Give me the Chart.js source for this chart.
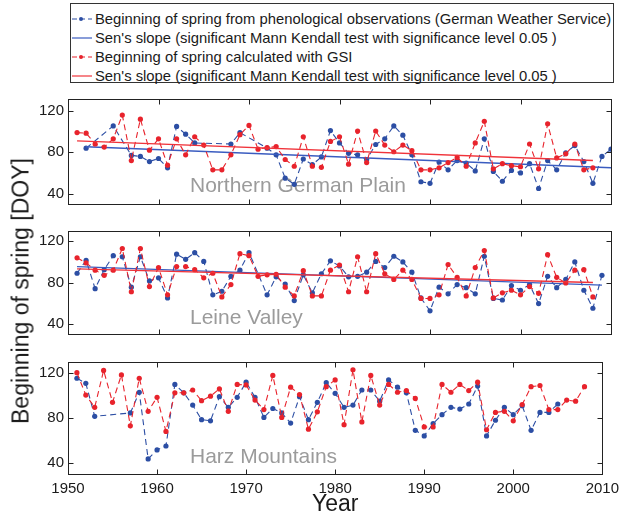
<!DOCTYPE html>
<html>
<head>
<meta charset="utf-8">
<script src="https://cdn.jsdelivr.net/npm/chart.js@4.4.1/dist/chart.umd.min.js"></script>
<style>
  body { margin: 0; background: #fff; font-family: "Liberation Sans", Arial, sans-serif; }
  #wrap { position: relative; width: 641px; height: 516px; overflow: hidden; }
  #wrap canvas { position: absolute; left: 0; }
  #legend { position: absolute; left: 70px; top: 3px; width: 542px; border: 1px solid #333; padding-top: 5px; height: 73px; }
  .row { height: 19px; display: flex; align-items: center; font-size: 14.8px; color: #1a1a1a; white-space: nowrap; }
  .row svg { margin-right: 2px; flex: none; }
  #ytitle { position: absolute; left: 21px; top: 291px; transform: translate(-50%, -50%) rotate(-90deg); font-size: 23px; color: #1a1a1a; white-space: nowrap; }
</style>
</head>
<body>
<div id="wrap">
  <div id="legend"></div>
  <canvas id="north" width="625" height="131" style="top:86px"></canvas>
  <canvas id="leine" width="625" height="129" style="top:218px"></canvas>
  <canvas id="harz" width="625" height="167" style="top:349px"></canvas>
  <div id="ytitle">Beginning of spring [DOY]</div>
</div>
<script>
// --- DATA ---
const years = [1950, 1951, 1952, 1953, 1954, 1955, 1956, 1957, 1958, 1959,
  1960, 1961, 1962, 1963, 1964, 1965, 1966, 1967, 1968, 1969,
  1970, 1971, 1972, 1973, 1974, 1975, 1976, 1977, 1978, 1979,
  1980, 1981, 1982, 1983, 1984, 1985, 1986, 1987, 1988, 1989,
  1990, 1991, 1992, 1993, 1994, 1995, 1996, 1997, 1998, 1999,
  2000, 2001, 2002, 2003, 2004, 2005, 2006, 2007, 2008, 2009, 2010];

const xTicks = [1950, 1960, 1970, 1980, 1990, 2000, 2010];
const yTicks = [40, 80, 120];

const seriesLabels = [
  'Beginning of spring from phenological observations (German Weather Service)',
  "Sen's slope (significant Mann Kendall test with significance level 0.05 )",
  'Beginning of spring calculated with GSI',
  "Sen's slope (significant Mann Kendall test with significance level 0.05 )"
];

// Northern German Plain
const northBlue = [null, null, 84, null, null, 105.5, null, 77, 76, 71,
  74, 65, 105, 97.5, 89, null, null, null, 88, 99,
  null, null, 84, 77.5, 55, 49, 73.5, 68, 75.5, 101,
  89, 79, 77.5, 73, 87.5, 93, 105.5, 96.5, 77.5, 51.5,
  50, 70.5, 63, 72, 69.5, 62, 93, 61.5, 52, 62.5,
  60, 69, 45, 72, 63, 79.5, 86.5, 71, 50, 76, 83];
const northRed = [null, 99, 98.5, 88, 85, 93, 116, 72, 112, 82,
  93, 67.5, 93, 77.5, 95, 87, 63, 63, 77.5, 97,
  106, 83, 84.5, 85.5, 73, 66.5, 95, 66.5, 65.5, 90.5,
  95, 68.5, 100.5, 70, 100.5, 87, 80.5, 87, 81.5, 63,
  63, 65, 70, 75, 66.5, 89, 110, 64, 69, 67,
  66, 88, 64, 107.5, 74.5, 78.5, 88, 63, 65, null, null];
const northSenBlueYears = [1952, 2010];
const northSenBlue = [85.3, 65];
const northSenRedYears = [1951, 2008];
const northSenRed = [91, 72];

// Leine Valley
const leineBlue = [null, 89, 101.5, 74, 92.5, 106, 105, 75.5, 105, 81.5,
  84.5, 65, 107.5, 102.5, 109, 100.5, 68, 71.5, 86, 92,
  109, null, 68, 85.5, 78.5, 62.5, 87.5, 70, 88.5, 101,
  96, 85.5, 86, 90, 100.5, 94.5, 105.5, 100, 90, 65,
  52.5, 75.5, 69, 78, 75, 69, 105.5, 64.5, 63, 77,
  72.5, 78, 59.5, 86, 75, 83, 100, 72.5, 55, 87, null];
const leineRed = [null, 104, 99, 92, 87, 92, 113, 71, 113, 76,
  94.5, 68, 95.5, 95.5, 92.5, 84.5, 89, 66, 78, 108,
  106, 86, 87.5, 88, 75.5, 67, 91.5, 67, 67, 92,
  97, 71, 105, 71, 108, 88.5, 83, 92, 83, 64.5,
  64.5, 68, 97.5, 85, 67, 94.5, 111, 65, 70, 72.5,
  68, 76, 69.5, 107, 85, 79.5, 92, 92.5, 66, null, null];
const leineSenBlueYears = [1951, 2009];
const leineSenBlue = [95.4, 77.5];
const leineSenRedYears = [1951, 2008];
const leineSenRed = [93.2, 80];

// Harz Mountains
const harzBlue = [null, 115.5, 111, 81.5, null, null, null, 84.5, 103, 43.5,
  51.5, 55, 110, 102.5, 91.5, 78.5, 77.5, 99, 89.5, 98.5,
  112, 98.5, 80.5, 88.5, 84.5, 75.5, 99, 78.5, 94, 111.5,
  102, 89.5, 91.5, 105, 105, 95, 114, 107.5, 102.5, 69,
  64, 75, 83, 89.5, 88, 92.5, 108.5, 64, 78, 89.5,
  83, 91, 69, 85, 85, 92.5, null, null, null, null, null];
const harzRed = [null, 120.5, 100.5, 89.5, 122.5, 94, 118.5, 73, 115.5, 86,
  98.5, 68, 102.5, 102.5, 105, 95.5, 99.5, 106, 86, 110,
  109.5, 96, 87.5, 118, 80.5, 107.5, 101, 70, 85.5, 108,
  114, 74, 123, 76.5, 118, 91.5, 110, 103, 104.5, 97.5,
  72, 72, 110, 103, 110, 104.5, 112, 69.5, 85, 86,
  77.5, 92, 108, 109, 87.5, 87.5, 96, 95, 108, null, null];

// --- STYLE ---
const BLUE = '#2c4ea4';
const RED = '#e8232c';
const BLUE_LINE = '#3a5cc0';
const RED_LINE = '#f0333a';
const FONT = '"Liberation Sans", Arial, sans-serif';
Chart.defaults.font.family = FONT;

// Legend built from the labels
const legendSamples = [
  { color: BLUE, dashed: true }, { color: BLUE_LINE, dashed: false },
  { color: RED, dashed: true }, { color: RED_LINE, dashed: false }
];
const legend = document.getElementById('legend');
seriesLabels.forEach((label, i) => {
  const s = legendSamples[i];
  const row = document.createElement('div');
  row.className = 'row';
  row.innerHTML = `<svg width="22" height="8"><line x1="1" y1="4" x2="21" y2="4" stroke="${s.color}" stroke-width="1.2" ${s.dashed ? 'stroke-dasharray="5,3"' : ''}/>${s.dashed ? `<circle cx="10" cy="4" r="2" fill="${s.color}"/>` : ''}</svg><span>${label}</span>`;
  legend.appendChild(row);
});

// Draws the box, inward ticks and the region name
const framePlugin = {
  id: 'frame',
  beforeDatasetsDraw(chart, args, opts) {
    const { ctx, chartArea: a } = chart;
    ctx.save();
    ctx.font = '21px ' + FONT;
    ctx.fillStyle = '#9b9b9b';
    ctx.textBaseline = 'middle';
    ctx.fillText(opts.label, a.left + 122, a.bottom - opts.offset);
    ctx.restore();
  },
  afterDraw(chart) {
    const { ctx, chartArea: a, scales: { x, y } } = chart;
    const L = Math.round(a.left) + 0.5, R = Math.round(a.right) + 0.5;
    const T = Math.round(a.top) + 0.5, B = Math.round(a.bottom) + 0.5;
    ctx.save();
    ctx.strokeStyle = '#222';
    ctx.lineWidth = 1;
    ctx.strokeRect(L, T, R - L, B - T);
    ctx.beginPath();
    xTicks.forEach(v => {
      const px = Math.round(x.getPixelForValue(v)) + 0.5;
      ctx.moveTo(px, T); ctx.lineTo(px, T + 5);
      ctx.moveTo(px, B); ctx.lineTo(px, B - 5);
    });
    yTicks.forEach(v => {
      const py = Math.round(y.getPixelForValue(v)) + 0.5;
      ctx.moveTo(L, py); ctx.lineTo(L + 5, py);
      ctx.moveTo(R, py); ctx.lineTo(R - 5, py);
    });
    ctx.stroke();
    ctx.restore();
  }
};

function points(xs, ys) {
  return xs.map((yr, i) => ({ x: yr, y: ys[i] }));
}

function dataSet(vals, color, order) {
  return {
    data: points(years, vals), borderColor: color, backgroundColor: color,
    borderWidth: 1.1, borderDash: [6, 4], pointRadius: 2.6, pointBorderWidth: 0,
    pointBackgroundColor: color, spanGaps: true, order: order
  };
}

function senSet(xs, vals, color, order) {
  return { data: points(xs, vals), borderColor: color, borderWidth: 1.4, pointRadius: 0, order: order };
}

function makePanel(id, datasets, yMax, label, offset, bottom) {
  const xScale = {
    type: 'linear', min: 1950, max: 2010, display: bottom,
    afterBuildTicks: s => { s.ticks = xTicks.map(v => ({ value: v })); },
    grid: { display: false, drawTicks: false }, border: { display: false },
    ticks: { color: '#1a1a1a', padding: 6, font: { size: 15 }, callback: v => String(v) }
  };
  if (bottom) {
    xScale.afterFit = s => { s.height = 42; };
    xScale.title = { display: true, text: 'Year', color: '#1a1a1a', font: { size: 23, lineHeight: 1 }, padding: { top: 0, bottom: 0 } };
  }
  return new Chart(document.getElementById(id), {
    type: 'line',
    data: { datasets: datasets },
    options: {
      responsive: false, animation: false,
      layout: { padding: { top: 4, bottom: bottom ? 0 : 4, left: 0, right: 14 } },
      plugins: { legend: { display: false }, tooltip: { enabled: false }, frame: { label: label, offset: offset } },
      scales: {
        x: xScale,
        y: {
          min: 30, max: yMax,
          afterBuildTicks: s => { s.ticks = yTicks.map(v => ({ value: v })); },
          afterFit: s => { s.width = 68; },
          grid: { display: false, drawTicks: false }, border: { display: false },
          ticks: { color: '#1a1a1a', padding: 4, font: { size: 15 } }
        }
      }
    },
    plugins: [framePlugin]
  });
}

makePanel('north', [
  senSet(northSenRedYears, northSenRed, RED_LINE, 0),
  dataSet(northRed, RED, 1),
  senSet(northSenBlueYears, northSenBlue, BLUE_LINE, 2),
  dataSet(northBlue, BLUE, 3)
], 131.5, 'Northern German Plain', 18, false);

makePanel('leine', [
  senSet(leineSenRedYears, leineSenRed, RED_LINE, 0),
  dataSet(leineRed, RED, 1),
  senSet(leineSenBlueYears, leineSenBlue, BLUE_LINE, 2),
  dataSet(leineBlue, BLUE, 3)
], 130, 'Leine Valley', 16, false);

makePanel('harz', [
  dataSet(harzRed, RED, 1),
  dataSet(harzBlue, BLUE, 3)
], 130, 'Harz Mountains', 17, true);
</script>
</body>
</html>
